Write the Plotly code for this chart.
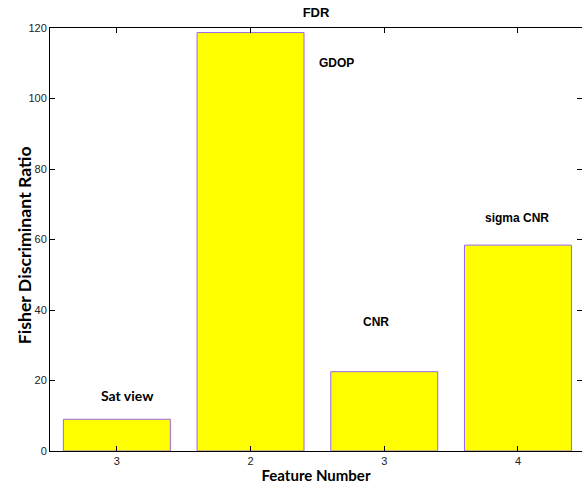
import plotly.graph_objects as go

# Data
positions = [1, 2, 3, 4]
tick_labels = ["3", "2", "3", "4"]
fdr_values = [9.0, 118.7, 22.5, 58.4]
label_texts = ["Sat view", "GDOP", "CNR", "sigma CNR"]
label_x = [1.08, 2.645, 2.937, 3.99]
label_y = [15.8, 110.1, 36.6, 66.1]

fig = go.Figure()
fig.add_trace(go.Bar(
    x=positions, y=fdr_values, width=0.8,
    marker=dict(color="#FFFF00", line=dict(color="#9966EE", width=1)),
    showlegend=False,
))
# empty trace to render right-side ticks axis
fig.add_trace(go.Scatter(x=[], y=[], yaxis="y2", showlegend=False))

for i, (t, xx, yy) in enumerate(zip(label_texts, label_x, label_y)):
    fam = "Lato" if i == 0 else "Liberation Sans"
    size = 14 if i == 0 else 12
    fig.add_annotation(x=xx, y=yy, text=f"<b>{t}</b>", showarrow=False,
                       font=dict(family=fam, size=size, color="black"),
                       xanchor="center", yanchor="middle")

# y-axis title as rotated annotation
fig.add_annotation(x=-0.049, y=0.486, xref="paper", yref="paper",
                   text="<b>Fisher Discriminant Ratio</b>", textangle=-90,
                   showarrow=False, xanchor="center", yanchor="middle",
                   font=dict(family="Lato", size=17.7, color="black"))

fig.update_layout(
    width=582, height=485,
    margin=dict(l=50, r=0, t=28, b=34),
    plot_bgcolor="white", paper_bgcolor="white",
    bargap=0.2,
    title=dict(text="<b>FDR</b>", x=0.5, xref="paper", y=1 - 12 / 485,
               yanchor="middle", xanchor="center",
               font=dict(family="Liberation Sans", size=13, color="black")),
    xaxis=dict(
        range=[0.5, 4.479], tickvals=positions, ticktext=tick_labels,
        showline=True, linecolor="black", linewidth=1, mirror="ticks",
        ticks="inside", ticklen=5, tickcolor="black", showgrid=False,
        zeroline=False,
        tickfont=dict(family="Liberation Sans", size=11, color="#222"),
        title=dict(text="<b>Feature Number</b>", standoff=4,
                   font=dict(family="Lato", size=15, color="black")),
    ),
    yaxis=dict(
        range=[0, 120], dtick=20, showline=True, linecolor="black",
        linewidth=1, ticks="inside", ticklen=5, tickcolor="black",
        showgrid=False, zeroline=False,
        tickfont=dict(family="Liberation Sans", size=11, color="#222"),
    ),
    yaxis2=dict(
        overlaying="y", side="right", matches="y", range=[0, 120], dtick=20,
        ticks="inside", ticklen=5, tickcolor="black", showticklabels=False,
        showline=False, showgrid=False, zeroline=False,
    ),
)

fig.write_html("out.html")
